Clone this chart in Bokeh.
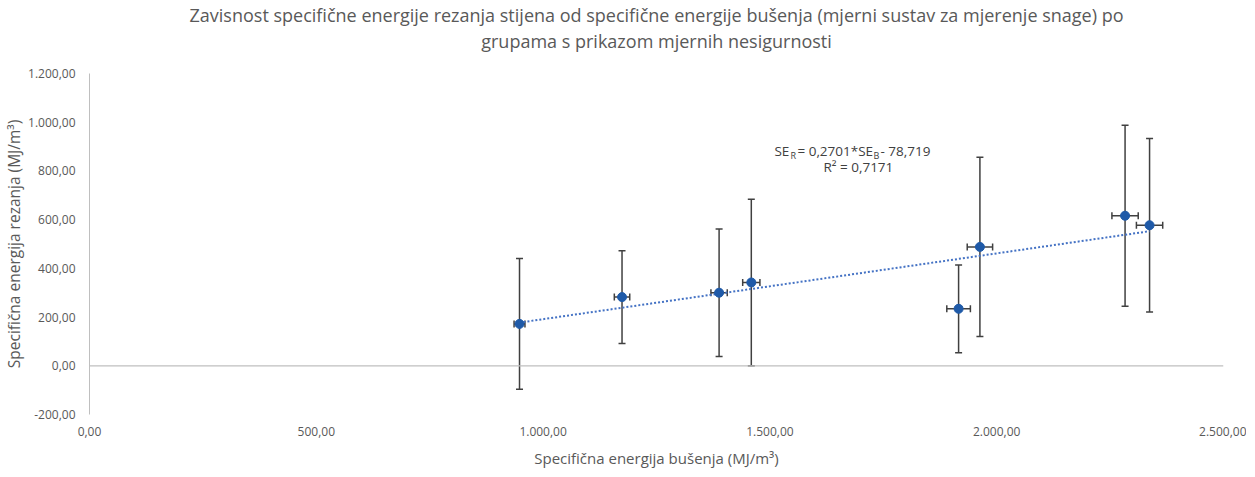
from bokeh.plotting import figure
from bokeh.models import (ColumnDataSource, Whisker, TeeHead, Span, Label,
                          FixedTicker, Title)
from bokeh.embed import file_html
from bokeh.resources import INLINE

# ---- data ----
se_b = [948, 1174, 1388, 1459, 1916, 1963, 2283, 2337]        # specific drilling energy
se_r = [172, 282, 300, 342, 234, 488, 616, 577]               # specific cutting energy
err_r = [268, 190, 262, 342, 180, 368, 372, 356]              # uncertainty of SE_R
err_b = [12, 17, 18, 19, 26, 28, 29, 29]                      # uncertainty of SE_B
slope = 0.2701
intercept = -78.719
r2_text = "0,7171"

x_ticks = [0, 500, 1000, 1500, 2000, 2500]
x_tick_labels = ["0,00", "500,00", "1.000,00", "1.500,00", "2.000,00", "2.500,00"]
y_ticks = [-200, 0, 200, 400, 600, 800, 1000, 1200]
y_tick_labels = ["-200,00", "0,00", "200,00", "400,00", "600,00", "800,00",
                 "1.000,00", "1.200,00"]

title_lines = [
    "Zavisnost specifične energije rezanja stijena od specifične energije bušenja (mjerni sustav za mjerenje snage) po",
    "grupama s prikazom mjernih nesigurnosti",
]
x_title = "Specifična energija bušenja (MJ/m³)"
y_title = "Specifična energija rezanja (MJ/m³)"

FONT = "Open Sans"
TXT = "#595959"

src = ColumnDataSource(dict(
    x=se_b, y=se_r,
    ylo=[v - e for v, e in zip(se_r, err_r)], yhi=[v + e for v, e in zip(se_r, err_r)],
    xlo=[v - e for v, e in zip(se_b, err_b)], xhi=[v + e for v, e in zip(se_b, err_b)],
))

p = figure(frame_width=1134, frame_height=341, x_range=(0, 2500), y_range=(-200, 1200),
           output_backend="svg", toolbar_location=None,
           min_border_left=82, min_border_right=23, min_border_top=0,
           min_border_bottom=0)
p.outline_line_color = None
p.grid.visible = False
p.background_fill_color = "white"
p.border_fill_color = "white"

# titles (added nearest-first): spacer, second line, first line
p.add_layout(Title(text=" ", text_font=FONT, text_font_size="14px", standoff=0), "above")
for t in (title_lines[1], title_lines[0]):
    p.add_layout(Title(text=t, align="center", text_font=FONT, text_font_size="18px",
                       text_font_style="normal", text_color=TXT, standoff=0), "above")

# axes
p.xaxis.ticker = FixedTicker(ticks=x_ticks)
p.yaxis.ticker = FixedTicker(ticks=y_ticks)
p.xaxis.major_label_overrides = {t: l for t, l in zip(x_ticks, x_tick_labels)}
p.yaxis.major_label_overrides = {t: l for t, l in zip(y_ticks, y_tick_labels)}
for ax in (p.xaxis, p.yaxis):
    ax.major_tick_line_color = None
    ax.minor_tick_line_color = None
    ax.major_label_text_font = FONT
    ax.major_label_text_font_size = "12px"
    ax.major_label_text_color = TXT
    ax.axis_label_text_font = FONT
    ax.axis_label_text_font_style = "normal"
    ax.axis_label_text_color = TXT
p.xaxis.axis_label_text_font_size = "15px"
p.yaxis.axis_label_text_font_size = "15.5px"
p.xaxis.axis_line_color = None
p.yaxis.axis_line_color = "#bfbfbf"
p.xaxis.major_label_standoff = 6
p.yaxis.major_label_standoff = 8
p.xaxis.axis_label = x_title
p.yaxis.axis_label = y_title
p.xaxis.axis_label_standoff = 9
p.yaxis.axis_label_standoff = 0

p.add_layout(Span(location=0, dimension="width", line_color="#bfbfbf", line_width=1.2))

# trendline
tx = [min(se_b), max(se_b)]
ty = [slope * v + intercept for v in tx]
p.line(tx, ty, line_color="#4472c4", line_width=2, line_dash="2 2")

# error bars
p.add_layout(Whisker(source=src, base="x", lower="ylo", upper="yhi", dimension="height",
                     line_color="#404040", line_width=1.5,
                     upper_head=TeeHead(size=7, line_color="#404040", line_width=1.5),
                     lower_head=TeeHead(size=7, line_color="#404040", line_width=1.5)))
p.add_layout(Whisker(source=src, base="y", lower="xlo", upper="xhi", dimension="width",
                     line_color="#404040", line_width=1.5,
                     upper_head=TeeHead(size=7, line_color="#404040", line_width=1.5),
                     lower_head=TeeHead(size=7, line_color="#404040", line_width=1.5)))

p.scatter("x", "y", source=src, size=9, fill_color="#1f5aa8", line_color="#1f5aa8")

# equation
EQ = "#404040"
ex, ey = 1510, 880
pieces = [("SE", 0, 0, "13.5px"), ("R", 16, -4, "9px"), ("= 0,2701*SE", 23, 0, "13.5px"),
          ("B", 99, -4, "9px"), ("- 78,719", 106, 0, "13.5px")]
for txt, dx, dy, fs in pieces:
    p.add_layout(Label(x=ex, y=ey, x_offset=dx, y_offset=dy, text=txt, text_align="left",
                       text_baseline="middle", text_font=FONT, text_font_size=fs,
                       text_color=EQ))
p.add_layout(Label(x=ex, y=ey, x_offset=49, y_offset=-16, text="R² = " + r2_text,
                   text_align="left", text_baseline="middle", text_font=FONT,
                   text_font_size="13.5px", text_color=EQ))

open("out.html", "w").write(file_html(p, INLINE))
